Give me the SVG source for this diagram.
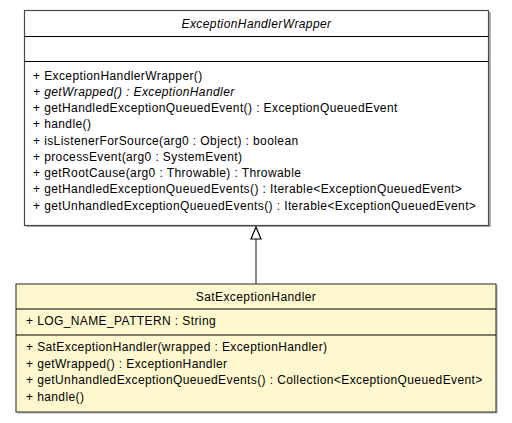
<svg xmlns="http://www.w3.org/2000/svg" width="512" height="423" viewBox="0 0 512 423">
<style>
text{font-family:"Liberation Sans",Arial,sans-serif;font-size:12px;letter-spacing:0.4px;fill:#000}
.it{font-style:italic}
.mid{text-anchor:middle}
.box{stroke:#4a4a4a;stroke-width:1.2}
.shadow{fill:#b0b0b0}
.div{stroke:#000;stroke-width:1}
.conn{stroke:#4a4a4a;stroke-width:1.3;fill:none}
</style>
<rect width="512" height="423" fill="#fff"/>
<g id="ExceptionHandlerWrapper">
<rect class="shadow" x="26" y="12" width="465" height="215"/>
<rect class="box" x="24.5" y="10.5" width="464" height="215" fill="#fff"/>
<line class="div" x1="24.5" y1="36.5" x2="488.5" y2="36.5"/>
<line class="div" x1="24.5" y1="61.5" x2="488.5" y2="61.5" stroke-width="1.6"/>
<text class="it mid" x="256.5" y="27.5">ExceptionHandlerWrapper</text>
<text x="33" y="79.5">+ ExceptionHandlerWrapper()</text>
<text x="33" y="95.75" class="it">+ getWrapped() : ExceptionHandler</text>
<text x="33" y="112">+ getHandledExceptionQueuedEvent() : ExceptionQueuedEvent</text>
<text x="33" y="128.25">+ handle()</text>
<text x="33" y="144.5">+ isListenerForSource(arg0 : Object) : boolean</text>
<text x="33" y="160.75">+ processEvent(arg0 : SystemEvent)</text>
<text x="33" y="177">+ getRootCause(arg0 : Throwable) : Throwable</text>
<text x="33" y="193.25">+ getHandledExceptionQueuedEvents() : Iterable&lt;ExceptionQueuedEvent&gt;</text>
<text x="33" y="209.5">+ getUnhandledExceptionQueuedEvents() : Iterable&lt;ExceptionQueuedEvent&gt;</text>
</g>
<g id="SatExceptionHandler">
<rect class="shadow" x="17.5" y="285.5" width="480" height="128"/>
<rect class="box" x="16" y="284" width="480" height="128" fill="#fff8cf"/>
<line class="div" x1="16" y1="309" x2="496" y2="309"/>
<line class="div" x1="16" y1="335" x2="496" y2="335"/>
<text class="mid" x="256" y="301">SatExceptionHandler</text>
<text x="26" y="325">+ LOG_NAME_PATTERN : String</text>
<text x="26" y="351">+ SatExceptionHandler(wrapped : ExceptionHandler)</text>
<text x="26" y="367.5">+ getWrapped() : ExceptionHandler</text>
<text x="26" y="384">+ getUnhandledExceptionQueuedEvents() : Collection&lt;ExceptionQueuedEvent&gt;</text>
<text x="26" y="401">+ handle()</text>
</g>
<g id="connectors">
<line class="conn" x1="256" y1="239" x2="256" y2="284"/>
<polygon points="256,227 251,239 261,239" fill="#fff" stroke="#000" stroke-width="1.2"/>
</g>
</svg>
